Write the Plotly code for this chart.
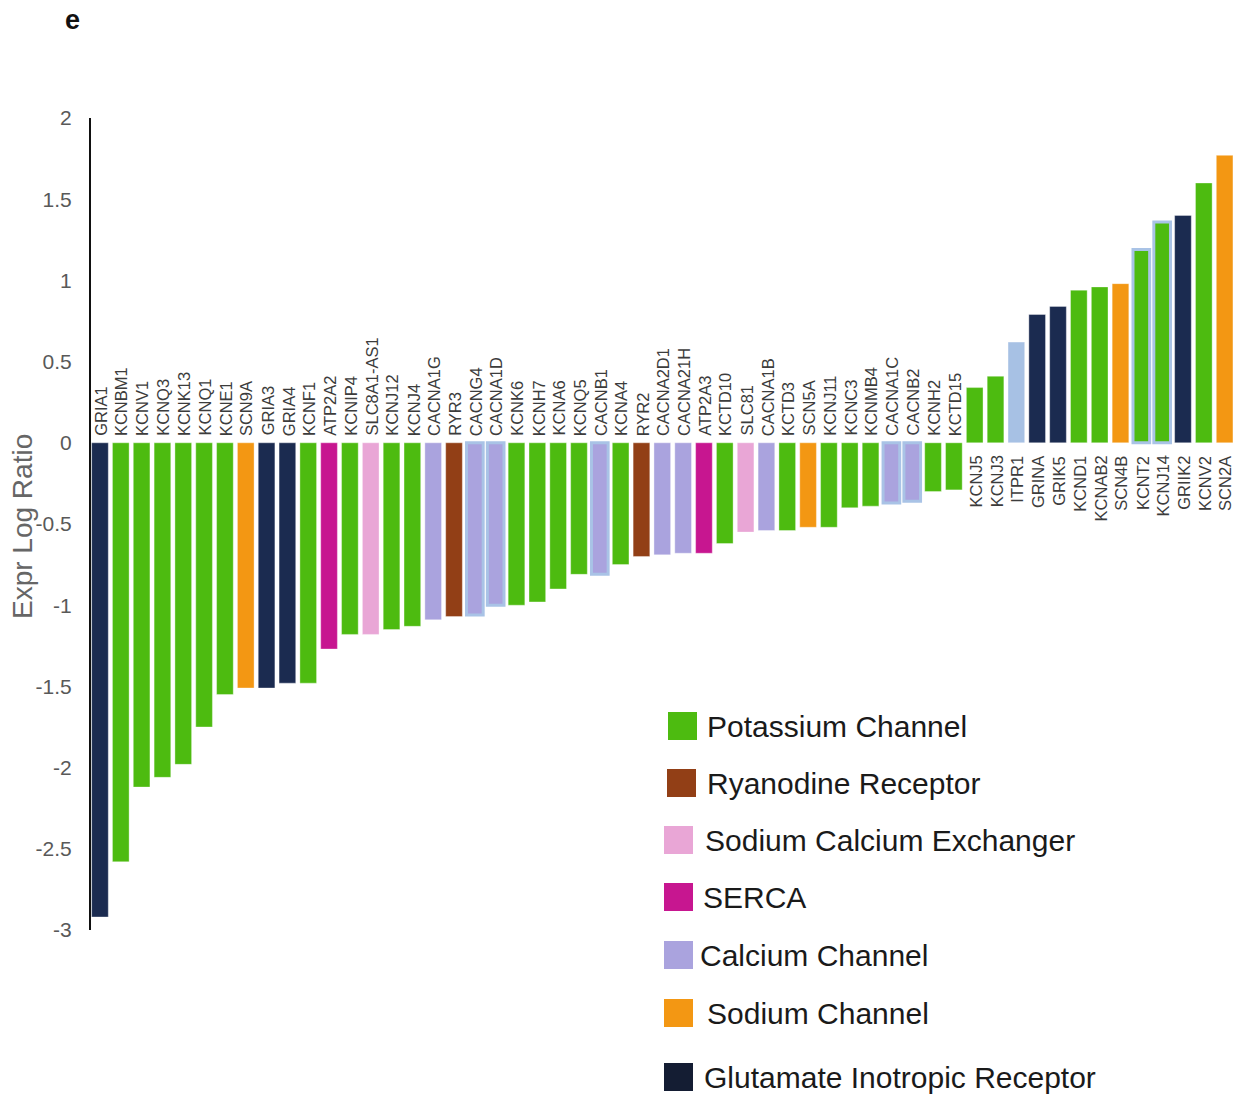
import plotly.graph_objects as go

# Gene expression log ratios, sorted from most down- to most up-regulated
genes = [
    "GRIA1", "KCNBM1", "KCNV1", "KCNQ3", "KCNK13", "KCNQ1", "KCNE1", "SCN9A",
    "GRIA3", "GRIA4", "KCNF1", "ATP2A2", "KCNIP4", "SLC8A1-AS1", "KCNJ12",
    "KCNJ4", "CACNA1G", "RYR3", "CACNG4", "CACNA1D", "KCNK6", "KCNH7", "KCNA6",
    "KCNQ5", "CACNB1", "KCNA4", "RYR2", "CACNA2D1", "CACNA21H", "ATP2A3",
    "KCTD10", "SLC81", "CACNA1B", "KCTD3", "SCN5A", "KCNJ11", "KCNC3",
    "KCNMB4", "CACNA1C", "CACNB2", "KCNH2", "KCTD15", "KCNJ5", "KCNJ3",
    "ITPR1", "GRINA", "GRIK5", "KCND1", "KCNAB2", "SCN4B", "KCNT2", "KCNJ14",
    "GRIIK2", "KCNV2", "SCN2A",
]
log_ratio = [
    -2.92, -2.58, -2.12, -2.06, -1.98, -1.75, -1.55, -1.51,
    -1.51, -1.48, -1.48, -1.27, -1.18, -1.18, -1.15,
    -1.13, -1.09, -1.07, -1.06, -1.00, -1.00, -0.98, -0.90,
    -0.81, -0.81, -0.75, -0.70, -0.69, -0.68, -0.68,
    -0.62, -0.55, -0.54, -0.54, -0.52, -0.52, -0.40,
    -0.39, -0.37, -0.36, -0.30, -0.29, 0.34, 0.41,
    0.62, 0.79, 0.84, 0.94, 0.96, 0.98, 1.19, 1.36,
    1.40, 1.60, 1.77,
]
groups = [
    "Glu", "K", "K", "K", "K", "K", "K", "Na",
    "Glu", "Glu", "K", "SERCA", "K", "NCX", "K",
    "K", "Ca", "RyR", "Ca", "Ca", "K", "K", "K",
    "K", "Ca", "K", "RyR", "Ca", "Ca", "SERCA",
    "K", "NCX", "Ca", "K", "Na", "K", "K",
    "K", "Ca", "Ca", "K", "K", "K", "K",
    "IP3R", "Glu", "Glu", "K", "K", "Na", "K", "K",
    "Glu", "K", "Na",
]

legend_keys = ["K", "RyR", "NCX", "SERCA", "Ca", "Na", "Glu"]
legend_names = [
    "Potassium Channel", "Ryanodine Receptor", "Sodium Calcium Exchanger",
    "SERCA", "Calcium Channel", "Sodium Channel", "Glutamate Inotropic Receptor",
]

# Styling
FONT = "Liberation Sans, Arial"
group_colors = {
    "K": "#4DBB10", "RyR": "#923F16", "NCX": "#E9A6D6", "SERCA": "#C71690",
    "Ca": "#AAA3DE", "Na": "#F39713", "Glu": "#1B2B50", "IP3R": "#A7C1E4",
}
legend_swatch = dict(group_colors, Glu="#141D33")
outline_color = "#A9C3E6"
outlined = {"CACNG4", "CACNA1D", "CACNB1", "CACNA1C", "CACNB2", "KCNT2", "KCNJ14"}

xs = list(range(len(genes)))
fill = [group_colors[g] for g in groups]
line_col = [outline_color if g in outlined else "rgba(255,255,255,0.6)" for g in genes]
line_w = [3 if g in outlined else 0.6 for g in genes]

fig = go.Figure(
    go.Bar(
        x=xs, y=log_ratio, width=0.8,
        marker=dict(color=fill, line=dict(color=line_col, width=line_w)),
        showlegend=False, hoverinfo="skip",
    )
)

# Gene names written vertically along the zero line, on the side opposite the bar
annotations = []
for x, name, v in zip(xs, genes, log_ratio):
    annotations.append(dict(
        x=x, y=0, xref="x", yref="y", text=name, showarrow=False,
        textangle=-90, xanchor="center",
        yanchor="bottom" if v < 0 else "top",
        yshift=5 if v < 0 else -11, xshift=1,
        font=dict(family=FONT, size=16.5, color="#3c3c3c"),
    ))

# Paper-coordinate helpers for the plot area (pixels 91..1234 x 118..930)
def px_x(p):
    return (p - 91) / (1234 - 91)

def px_y(p):
    return (930 - p) / (930 - 118)

# Y-axis title, sitting close to the tick labels
annotations.append(dict(
    x=px_x(22), y=px_y(527), xref="paper", yref="paper",
    text="Expr Log Ratio", showarrow=False, textangle=-90,
    xanchor="center", yanchor="middle",
    font=dict(family=FONT, size=28, color="#666666"),
))

# Legend drawn as colour swatches with labels
W, H = 1244, 1096
leg_y = [726, 783, 840, 897, 955, 1013, 1077]
leg_sw_x = [668, 667, 664, 664, 664, 664, 664]
leg_tx_x = [705, 705, 703, 701, 698, 705, 702]
shapes = []
for k, name, yc, sx, tx in zip(legend_keys, legend_names, leg_y, leg_sw_x, leg_tx_x):
    shapes.append(dict(
        type="rect", xref="paper", yref="paper",
        x0=px_x(sx), x1=px_x(sx + 29),
        y0=px_y(yc + 14), y1=px_y(yc - 14),
        fillcolor=legend_swatch[k], line=dict(width=0), layer="above",
    ))
    annotations.append(dict(
        x=px_x(tx), y=px_y(yc), xref="paper", yref="paper",
        text=name, showarrow=False, xanchor="left", yanchor="middle",
        font=dict(family=FONT, size=30, color="#1a1a1a"),
    ))

# Panel letter
annotations.append(dict(
    x=px_x(72), y=px_y(20), xref="paper", yref="paper",
    text="<b>e</b>", showarrow=False, xanchor="center", yanchor="middle",
    font=dict(family=FONT, size=27, color="#111111"),
))

fig.update_layout(
    width=W, height=H,
    margin=dict(l=91, r=10, t=118, b=166),
    plot_bgcolor="white", paper_bgcolor="white",
    bargap=0.2,
    xaxis=dict(
        range=[-0.43, 54.45], visible=False, showgrid=False, zeroline=False,
    ),
    yaxis=dict(
        range=[-3, 2], tickvals=[2, 1.5, 1, 0.5, 0, -0.5, -1, -1.5, -2, -2.5, -3],
        ticktext=["2", "1.5", "1", "0.5", "0", "-0.5", "-1", "-1.5", "-2", "-2.5", "-3"],
        showgrid=False, zeroline=False, showline=True, linecolor="#111111",
        linewidth=2, ticks="", ticklabelstandoff=13,
        tickfont=dict(family=FONT, size=21, color="#595959"),
    ),
    annotations=annotations,
    shapes=shapes,
)

fig.write_html("out.html")
